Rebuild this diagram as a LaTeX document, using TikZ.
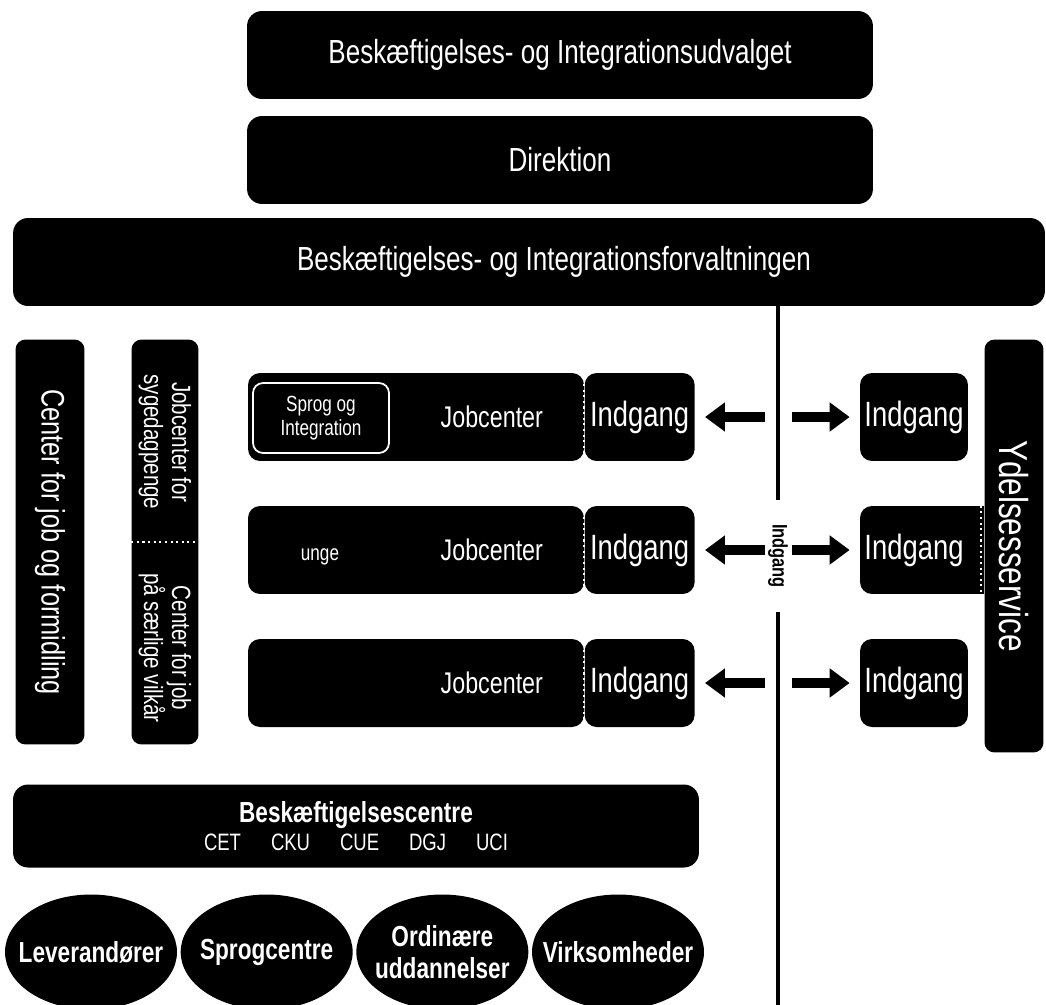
\documentclass[tikz,border=0pt]{standalone}
\usepackage{fontspec}
\setmainfont{Liberation Sans}[FakeStretch=0.78]
\usetikzlibrary{shapes.geometric, arrows.meta, positioning, backgrounds, calc}

\begin{document}
\begin{tikzpicture}[
    x=0.02cm, y=-0.02cm,
    box/.style={fill=black, text=white, rounded corners=0.3cm, inner sep=0pt, align=center},
    bar/.style={box, minimum height=1.76cm, font=\fontsize{19}{22}\selectfont},
    jobrow/.style={box, rounded corners=0.24cm, minimum height=1.76cm, text width=5.08cm, inner xsep=0.82cm, align=right, font=\fontsize{17}{20}\selectfont},
    gate/.style={box, rounded corners=0.24cm, minimum width=2.2cm, minimum height=1.76cm, font=\fontsize{20}{22}\selectfont},
    pillar/.style={box, rounded corners=0.2cm, rotate=-90, minimum width=8.1cm, minimum height=1.38cm},
    blob/.style={ellipse, fill=black, text=white, inner xsep=-0.4cm, inner ysep=0pt, minimum width=3.44cm, minimum height=2.3cm, align=center, font=\bfseries\fontsize{16.5}{18}\selectfont},
    dotsep/.style={white, dotted, line width=1.2pt},
    arrow/.style={-{Triangle[width=0.56cm, length=0.4cm]}, line width=0.2cm},
    mainline/.style={line width=0.08cm}
]
    \useasboundingbox (0,0) rectangle (1046,1005);

    % top of the organisation
    \node[bar, minimum width=12.52cm] (udvalg) at (560,55) {Beskæftigelses- og Integrationsudvalget};
    \node[bar, minimum width=12.52cm] (direktion) at (560,160) {Direktion};
    \node[bar, minimum width=20.64cm] (forvaltning) at (529,262) {\hspace*{1cm}Beskæftigelses- og Integrationsforvaltningen};

    % left columns
    \node[pillar, font=\fontsize{18.5}{20}\selectfont] (formidling) at (50,542) {Center for job og formidling};
    \node[box, rounded corners=0.2cm, minimum width=1.34cm, minimum height=8.1cm] (sygebox) at (165,542) {};
    \node[rotate=-90, text=white, align=center, font=\fontsize{15}{16}\selectfont] (syge) at (165,442) {Jobcenter for\\sygedagpenge};
    \node[rotate=-90, text=white, align=center, font=\fontsize{15}{16}\selectfont] (vilkaar) at (165,648) {Center for job\\på særlige vilkår};
    \draw[dotsep] (sygebox.west) -- (sygebox.east);

    % right column
    \node[pillar, minimum width=8.26cm, minimum height=1.18cm, font=\fontsize{23}{24}\selectfont] (ydelse) at (1014,546) {Ydelsesservice};

    % jobcenter rows with arrows
    \foreach \n/\y in {1/417, 2/550, 3/683} {
        \node[jobrow] (jc\n) at (416,\y) {Jobcenter};
        \node[gate, right=0pt of jc\n] (ind\n) {Indgang};
        \draw[dotsep] (jc\n.north east) -- (jc\n.south east);
        \node[gate, minimum width=2.16cm] (ydl\n) at (914,\y) {Indgang};
        \coordinate (fromL\n) at (765,\y);
        \coordinate (fromR\n) at (792,\y);
        \draw[arrow, shorten >=0.2cm] (fromL\n) -- (ind\n);
        \draw[arrow, shorten >=0.2cm] (fromR\n) -- (ydl\n);
    }
    \begin{scope}[on background layer]
        \fill (ydl2.north) rectangle (ydelse.south |- ydl2.south);
    \end{scope}
    \draw[dotsep] ($(ydelse.south |- ydl2.north)+(-3,0)$) -- ($(ydelse.south |- ydl2.south)+(-3,0)$);

    \node[draw=white, line width=1pt, rounded corners=0.2cm, text=white, minimum width=2.72cm, minimum height=1.4cm, align=center, font=\fontsize{12.5}{14}\selectfont] (sprog) at (321,418) {Sprog og\\Integration};
    \node[text=white, font=\fontsize{12.5}{14}\selectfont] (unge) at (320,557) {unge};

    % the vertical line
    \coordinate (ltop) at (778,306);
    \coordinate (lbot) at (778,1005);
    \node[rotate=-90, minimum width=2.24cm, inner sep=0pt, font=\bfseries\fontsize{12}{12}\selectfont] (vlabel) at (778,556) {Indgang};
    \draw[mainline] (ltop) -- (vlabel) -- (lbot);

    % bottom
    \node[box, minimum width=13.72cm, minimum height=1.66cm, font=\fontsize{13.5}{16}\selectfont] (centre) at (356,826) {{\bfseries\fontsize{16.5}{20}\selectfont Beskæftigelsescentre}\\CET\hspace{0.6cm}CKU\hspace{0.6cm}CUE\hspace{0.6cm}DGJ\hspace{0.6cm}UCI};
    \node[blob] (lev) at (91,952) {Leverandører};
    \node[blob, right=0.06cm of lev] (sprogc) {Sprogcentre};
    \node[blob, right=0.06cm of sprogc] (ordin) {Ordinære\\uddannelser};
    \node[blob, right=0.06cm of ordin] (virk) {Virksomheder};
\end{tikzpicture}
\end{document}
